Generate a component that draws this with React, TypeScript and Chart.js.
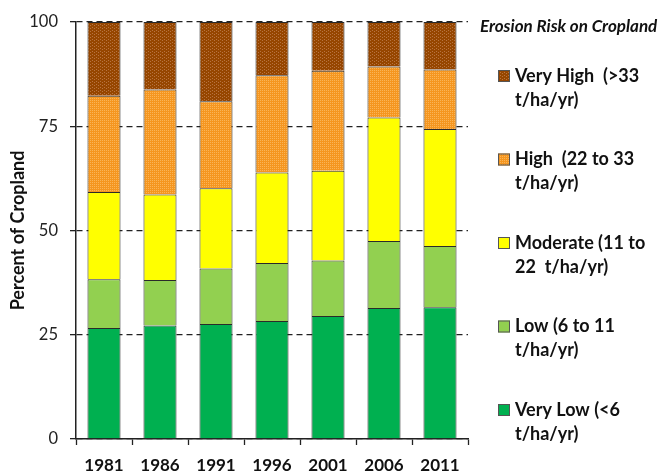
import { useEffect, useRef } from "react";
import { Chart, registerables } from "chart.js";

Chart.register(...registerables);

const years = ["1981", "1986", "1991", "1996", "2001", "2006", "2011"];
const veryLow = [26.6, 27.2, 27.6, 28.3, 29.5, 31.4, 31.6];
const low = [11.7, 10.9, 13.3, 13.9, 13.3, 16.1, 14.7];
const moderate = [20.9, 20.5, 19.2, 21.7, 21.5, 29.6, 28.0];
const high = [23.1, 25.2, 20.9, 23.3, 24.0, 12.2, 14.3];
const veryHigh = [17.7, 16.2, 19.0, 12.8, 11.7, 10.7, 11.4];

const seriesNames = [
  "Very Low (<6 t/ha/yr)",
  "Low (6 to 11 t/ha/yr)",
  "Moderate (11 to 22 t/ha/yr)",
  "High (22 to 33 t/ha/yr)",
  "Very High (>33 t/ha/yr)",
];
const legendLines = [
  ["Very Low (<6", "t/ha/yr)"],
  ["Low (6 to 11", "t/ha/yr)"],
  ["Moderate (11 to", "22  t/ha/yr)"],
  ["High  (22 to 33", "t/ha/yr)"],
  ["Very High  (>33", "t/ha/yr)"],
];
const legendTitle = "Erosion Risk on Cropland";
const yTitle = "Percent of Cropland";
const yMin = 0;
const yMax = 100;
const yStep = 25;

function makePattern(base: string, dot: string, w: number, h: number, dots: number[][]) {
  const c = document.createElement("canvas");
  c.width = w;
  c.height = h;
  const g = c.getContext("2d")!;
  g.fillStyle = base;
  g.fillRect(0, 0, w, h);
  g.fillStyle = dot;
  dots.forEach(([x, y]) => g.fillRect(x, y, 1, 1));
  return g.createPattern(c, "repeat")!;
}

export default function App() {
  const ref = useRef<HTMLCanvasElement>(null);

  useEffect(() => {
    const canvas = ref.current!;
    const highPat = makePattern("#F5961F", "#FAB457", 2, 2, [[0, 0]]);
    const vhPat = makePattern("#964600", "#B87440", 4, 3, [[0, 0], [2, 1]]);
    const fills: any[] = ["#00B050", "#92D050", "#FFFF00", highPat, vhPat];
    const values = [veryLow, low, moderate, high, veryHigh];

    const legendPlugin = {
      id: "sideLegend",
      afterDraw(chart: any) {
        const ctx = chart.ctx as CanvasRenderingContext2D;
        ctx.save();
        ctx.fillStyle = "#111";
        ctx.textBaseline = "middle";
        ctx.textAlign = "left";
        ctx.font = "italic bold 17px Lato";
        ctx.fillText(legendTitle, 480, 27);
        const n = chart.data.datasets.length;
        for (let k = 0; k < n; k++) {
          const i = n - 1 - k;
          const ds = chart.data.datasets[i];
          const yc = 76 + k * 83.5;
          ctx.fillStyle = ds.backgroundColor;
          ctx.fillRect(498, yc - 6, 12, 12);
          ctx.strokeStyle = "#555";
          ctx.lineWidth = 1;
          ctx.strokeRect(498.5, yc - 5.5, 11, 11);
          ctx.fillStyle = "#111";
          ctx.font = "bold 18px Lato";
          legendLines[i].forEach((line, j) => ctx.fillText(line, 515, yc + j * 24));
        }
        ctx.restore();
      },
    };

    const chart = new Chart(canvas, {
      type: "bar",
      data: {
        labels: years,
        datasets: values.map((v, i) => ({
          label: seriesNames[i],
          data: v,
          backgroundColor: fills[i],
          borderColor: "#2a2a2a",
          borderWidth: 1,
          barPercentage: 0.59,
          categoryPercentage: 1,
        })),
      },
      options: {
        responsive: false,
        animation: false,
        layout: { padding: { left: 0, top: 18, right: 199, bottom: 0 } },
        plugins: { legend: { display: false }, tooltip: { enabled: false } },
        scales: {
          x: {
            stacked: true,
            afterFit: (s: any) => {
              s.height = 36;
            },
            grid: {
              drawOnChartArea: false,
              offset: true,
              tickLength: 6,
              tickColor: "#222",
              tickWidth: 1.3,
            },
            border: { color: "#222", width: 1.5 },
            ticks: {
              color: "#111",
              padding: 10,
              font: { family: "Lato", size: 17, weight: "bold" },
            },
          },
          y: {
            stacked: true,
            min: yMin,
            max: yMax,
            afterFit: (s: any) => {
              s.width = 76;
            },
            grid: {
              color: "#222",
              lineWidth: 1.3,
              tickLength: 6,
              tickColor: "#222",
              tickWidth: 1.3,
              tickBorderDash: [],
            } as any,
            border: { color: "#222", width: 1.5, dash: [6, 4] },
            ticks: {
              stepSize: yStep,
              color: "#222",
              padding: 12,
              font: { family: "Lato", size: 16.5 },
            },
            title: {
              display: true,
              text: yTitle,
              color: "#111",
              padding: { top: 7, bottom: 0 },
              font: { family: "Lato", size: 18, weight: "bold" },
            },
          },
        },
      },
      plugins: [legendPlugin],
    });
    return () => chart.destroy();
  }, []);

  return (
    <div style={{ position: "fixed", left: 0, top: 0, width: 667, height: 475, background: "#fff" }}>
      <canvas ref={ref} width={667} height={475} style={{ display: "block" }} />
    </div>
  );
}
